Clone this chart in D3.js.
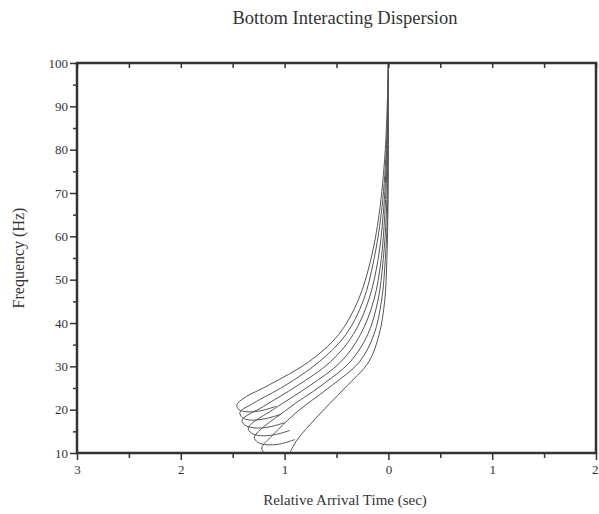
<!DOCTYPE html>
<html>
<head>
<meta charset="utf-8">
<script src="https://cdn.jsdelivr.net/npm/d3@7"></script>
<style>
  html, body { margin: 0; padding: 0; background: #fff; overflow: hidden; }
  svg { display: block; }
  svg text { font-family: "Liberation Serif", "DejaVu Serif", serif; fill: #333; }
</style>
</head>
<body>
<div id="chart"></div>
<script>
// dispersion curves, one array per mode: [relative time (sec), frequency (Hz)]
const mode1 = [[0, 100], [-0.03, 80], [-0.09, 65], [-0.17, 54.6], [-0.29, 45.3], [-0.48, 37.3],
  [-0.77, 31], [-1.15, 25.7], [-1.39, 22.7], [-1.46, 21.1], [-1.44, 20.0], [-1.36, 19.5], [-1.22, 19.8], [-1.08, 20.8]];
const mode2 = [[0, 100], [-0.02, 80], [-0.07, 65], [-0.14, 54.6], [-0.24, 45.3], [-0.41, 37.3],
  [-0.67, 31], [-1.0, 25.5], [-1.3, 21.5], [-1.43, 19.4], [-1.41, 18.2], [-1.33, 17.6], [-1.19, 17.9], [-1.04, 18.9]];
const mode3 = [[0, 100], [-0.015, 80], [-0.05, 65], [-0.1, 54.6], [-0.19, 45.3], [-0.34, 37.3],
  [-0.56, 31], [-0.88, 25.5], [-1.2, 20.8], [-1.41, 17.6], [-1.38, 16.4], [-1.29, 15.8], [-1.15, 16.0], [-1.0, 17.0]];
const mode4 = [[0, 100], [-0.01, 80], [-0.035, 65], [-0.07, 54.6], [-0.14, 45.3], [-0.27, 37.3],
  [-0.46, 31], [-0.76, 25.5], [-1.08, 20.5], [-1.35, 15.8], [-1.32, 14.6], [-1.23, 14.0], [-1.1, 14.2], [-0.95, 15.2]];
const mode5 = [[0, 100], [-0.005, 80], [-0.02, 65], [-0.05, 54.6], [-0.1, 45.3], [-0.2, 37.3],
  [-0.37, 31], [-0.65, 25.5], [-0.98, 20], [-1.29, 13.7], [-1.26, 12.5], [-1.17, 11.9], [-1.04, 12.1], [-0.9, 13.1]];
const mode6 = [[0, 100], [-0.003, 80], [-0.01, 65], [-0.03, 54.6], [-0.065, 45.3], [-0.14, 37.3],
  [-0.28, 31], [-0.55, 25.5], [-0.88, 19.5], [-1.12, 14], [-1.22, 11.2], [-1.2, 10]];
const mode7 = [[0, 100], [-0.001, 80], [-0.005, 65], [-0.015, 54.6], [-0.035, 45.3], [-0.09, 37.3],
  [-0.19, 31], [-0.42, 25], [-0.7, 18], [-0.88, 13], [-0.95, 10]];
const modes = [mode1, mode2, mode3, mode4, mode5, mode6, mode7];

const xTicks = [-3, -2, -1, 0, 1, 2];
const xMinor = [-2.5, -1.5, -0.5, 0.5, 1.5];
const yTicks = [10, 20, 30, 40, 50, 60, 70, 80, 90, 100];
const yMinor = [15, 25, 35, 45, 55, 65, 75, 85, 95];

const width = 599, height = 514;
const margin = { top: 63, right: 3, bottom: 61, left: 77 };
const innerWidth = width - margin.left - margin.right;
const innerHeight = height - margin.top - margin.bottom;

const svg = d3.select("#chart").append("svg")
  .attr("width", width)
  .attr("height", height);

const g = svg.append("g").attr("transform", `translate(${margin.left},${margin.top})`);

const x = d3.scaleLinear().domain([-3, 2]).range([0, innerWidth]);
const y = d3.scaleLinear().domain([10, 100]).range([innerHeight, 0]);

const axisColor = "#333";

// curves
const line = d3.line()
  .x((d) => x(d[0]))
  .y((d) => y(d[1]))
  .curve(d3.curveCatmullRom.alpha(0.5));

g.append("g")
  .selectAll("path")
  .data(modes)
  .join("path")
  .attr("d", line)
  .attr("fill", "none")
  .attr("stroke", "#555")
  .attr("stroke-width", 1);

// minor ticks have no labels, drop their empty text nodes
const noLabels = (a) => {
  a.select(".domain").remove();
  a.selectAll("text").remove();
};

// bottom axis: major + minor ticks outward
g.append("g")
  .attr("transform", `translate(0,${innerHeight})`)
  .call(d3.axisBottom(x).tickValues(xTicks).tickSize(7).tickPadding(5)
    .tickFormat((d) => Math.abs(d)))
  .call((a) => a.select(".domain").remove())
  .call((a) => a.selectAll("text").attr("font-size", 13))
  .call((a) => a.selectAll(".tick").filter((d) => d === 2).select("text")
    .attr("text-anchor", "end").attr("dx", 2));

g.append("g")
  .attr("transform", `translate(0,${innerHeight})`)
  .call(d3.axisBottom(x).tickValues(xMinor).tickSize(5))
  .call(noLabels);

// top axis: ticks inward
g.append("g")
  .call(d3.axisBottom(x).tickValues(xTicks.concat(xMinor)).tickSize(5))
  .call(noLabels);

// left axis
g.append("g")
  .call(d3.axisLeft(y).tickValues(yTicks).tickSize(7).tickPadding(2))
  .call((a) => a.select(".domain").remove())
  .call((a) => a.selectAll("text").attr("font-size", 13));

g.append("g")
  .call(d3.axisLeft(y).tickValues(yMinor).tickSize(4))
  .call(noLabels);

g.selectAll(".tick line").attr("stroke", axisColor).attr("stroke-width", 1.5);
g.selectAll(".tick text").attr("fill", axisColor);

// frame
g.append("rect")
  .attr("width", innerWidth)
  .attr("height", innerHeight)
  .attr("fill", "none")
  .attr("stroke", axisColor)
  .attr("stroke-width", 2.5);

// titles
svg.append("text")
  .attr("x", 345)
  .attr("y", 24)
  .attr("text-anchor", "middle")
  .attr("font-size", 18.5)
  .text("Bottom Interacting Dispersion");

svg.append("text")
  .attr("x", 345)
  .attr("y", 505)
  .attr("text-anchor", "middle")
  .attr("font-size", 15)
  .text("Relative Arrival Time (sec)");

svg.append("text")
  .attr("transform", `translate(24,${margin.top + innerHeight / 2}) rotate(-90)`)
  .attr("text-anchor", "middle")
  .attr("font-size", 16)
  .text("Frequency (Hz)");
</script>
</body>
</html>
